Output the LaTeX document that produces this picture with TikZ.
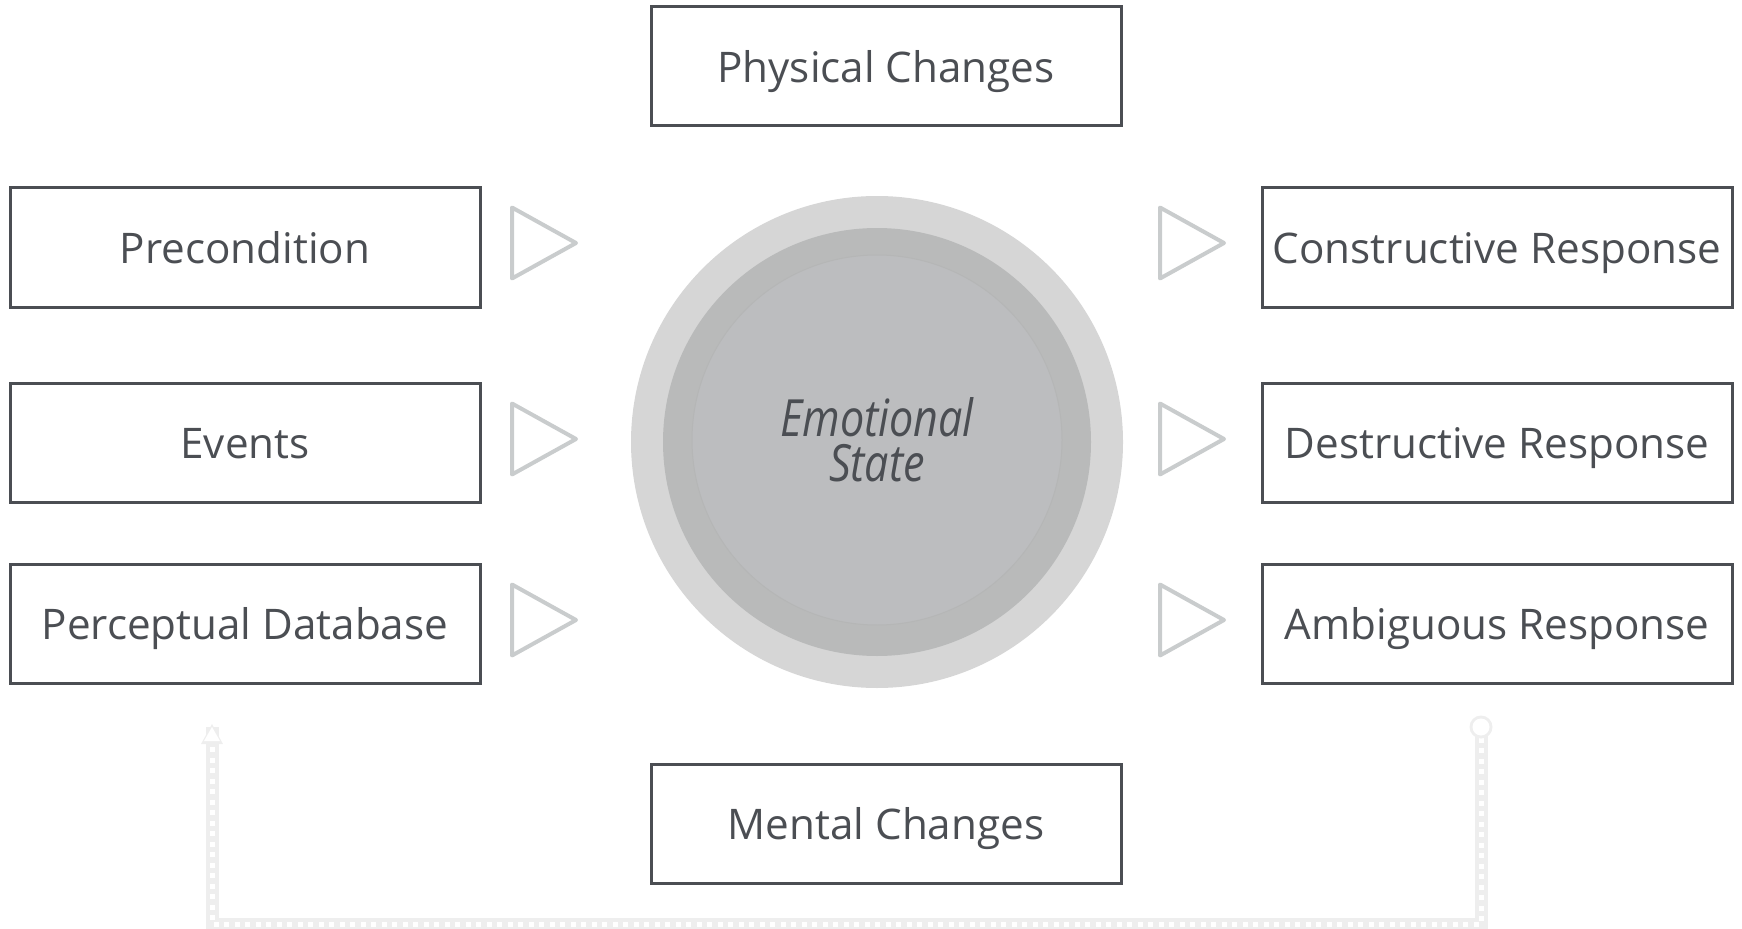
\documentclass[tikz,border=0pt]{standalone}
\usepackage{fontspec}
\setmainfont{Open Sans}
\newfontfamily\statefont[FakeStretch=0.84]{Open Sans}
\usetikzlibrary{positioning,arrows.meta}

\definecolor{boxgray}{HTML}{4B4E53}
\definecolor{tipgray}{HTML}{C9CCCD}
\definecolor{ringouter}{HTML}{D6D6D6}
\definecolor{ringmid}{HTML}{B9BABA}
\definecolor{ringcore}{HTML}{BCBDBF}
\definecolor{loopshade}{HTML}{EEEEEE}

\begin{document}
\begin{tikzpicture}[x=0.1mm, y=-0.1mm,
    stagebox/.style={rectangle, draw=boxgray, line width=0.3mm, minimum width=47mm,
        minimum height=11.9mm, inner sep=0pt, text=boxgray, text height=9pt, text depth=0pt,
        font=\fontsize{12}{14}\selectfont},
    ring/.style={circle, inner sep=0pt},
    pointer/.style={draw=tipgray, line width=0.4mm, line join=round},
    loopshadow/.style={draw=loopshade, line width=1.3mm},
    loopdots/.style={draw=white, line width=0.5mm, dash pattern=on 0.5mm off 0.55mm}
]
    \useasboundingbox (0,0) rectangle (1742,929);

    % inputs on the left
    \node[stagebox] (pre) at (245,247.5) {Precondition};
    \node[stagebox] (evt) at (245,442.5) {Events};
    \node[stagebox] (db)  at (245,623.5) {Perceptual Database};

    % responses on the right
    \node[stagebox] (con) at (1497,247.5) {Constructive Response};
    \node[stagebox] (des) at (1497,442.5) {Destructive Response};
    \node[stagebox] (amb) at (1497,623.5) {Ambiguous Response};

    % top and bottom
    \node[stagebox] (phys) at (886,66.5) {Physical Changes};
    \node[stagebox] (ment) at (886,823.5) {Mental Changes};

    % the emotional state in the middle
    \node[ring, fill=ringouter, minimum size=49.2mm] (outer) at (877,442) {};
    \node[ring, fill=ringmid, minimum size=42.8mm] (mid) at (877,442) {};
    \node[ring, fill=ringcore, draw=ringmid!98!black, line width=0.1mm,
        minimum size=37mm, align=center, text=boxgray,
        font=\statefont\itshape\fontsize{14.6}{12.8}\selectfont] (state) at (877,440)
        {Emotional\\State};

    % open triangles on both sides
    \foreach \y in {243,439,620} {
        \draw[pointer] (512,\y-35.5) -- (512,\y+35.5) -- (576,\y) -- cycle;
        \draw[pointer] (1160,\y-35.5) -- (1160,\y+35.5) -- (1224,\y) -- cycle;
    }

    % feedback loop underneath
    \coordinate (loopstart) at (1481,727);
    \coordinate (loopend) at (212,727);
    \draw[loopshadow] (loopstart) -- ++(0,197) -| (loopend);
    \draw[loopdots] (loopstart) -- ++(0,197) -| ([yshift=-1mm]loopend);
    \fill[loopshade] (loopstart) circle (1.15mm);
    \fill[white] (loopstart) circle (0.85mm);
    \fill[loopshade] ([yshift=-1.7mm]loopend) -- ++(-1.1mm,0) -- ([yshift=0.3mm]loopend) -- ++(1.1mm,-2mm) -- cycle;
    \fill[white] ([yshift=-1.4mm]loopend) -- ++(-0.8mm,0) -- (loopend) -- ++(0.8mm,-1.4mm) -- cycle;
\end{tikzpicture}
\end{document}
